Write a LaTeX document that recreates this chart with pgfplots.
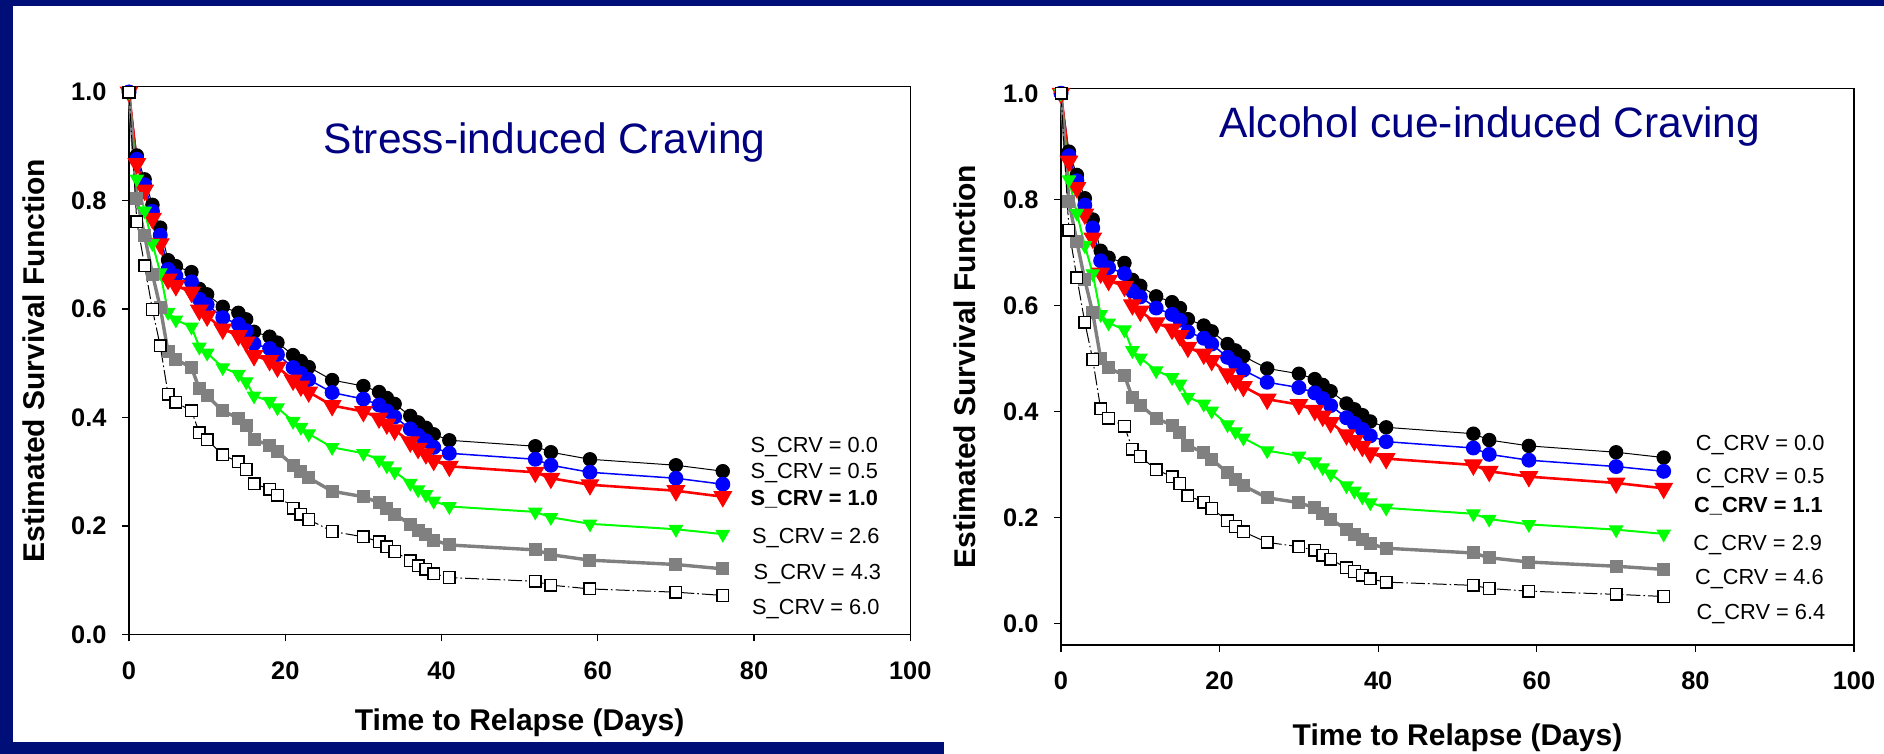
\documentclass[border=0pt]{standalone}
\usepackage{pgfplots}
\usepackage{pgfplotstable}
\pgfplotsset{compat=1.18}
\usepackage{fontspec}
\setmainfont{Liberation Sans}

\definecolor{band}{RGB}{0,14,120}
\definecolor{titlenavy}{RGB}{0,0,128}
\definecolor{cgreen}{RGB}{0,255,0}
\definecolor{cgray}{RGB}{128,128,128}

% Stress-induced craving: t, S_CRV = 0.0, 0.5, 1.0, 2.6, 4.3, 6.0
\pgfplotstableread{
t a b c d e f
0 1 1 1 1 1 1
1 0.883 0.876 0.868 0.840 0.804 0.761
2 0.839 0.829 0.819 0.781 0.735 0.680
3 0.792 0.780 0.767 0.721 0.664 0.599
4 0.750 0.736 0.720 0.667 0.603 0.532
5 0.690 0.673 0.655 0.594 0.521 0.443
6 0.679 0.661 0.643 0.580 0.507 0.428
8 0.668 0.650 0.631 0.567 0.492 0.412
9 0.637 0.618 0.598 0.530 0.453 0.372
10 0.627 0.608 0.587 0.519 0.440 0.359
12 0.604 0.584 0.563 0.492 0.412 0.331
14 0.593 0.572 0.551 0.480 0.399 0.318
15 0.581 0.560 0.539 0.466 0.385 0.304
16 0.558 0.536 0.514 0.440 0.359 0.278
18 0.549 0.527 0.505 0.430 0.349 0.268
19 0.538 0.516 0.493 0.418 0.337 0.257
21 0.515 0.492 0.469 0.393 0.312 0.233
22 0.504 0.481 0.458 0.382 0.300 0.222
23 0.493 0.470 0.447 0.370 0.289 0.212
26 0.469 0.446 0.422 0.345 0.264 0.190
30 0.458 0.434 0.411 0.334 0.254 0.180
32 0.447 0.423 0.399 0.322 0.243 0.171
33 0.436 0.412 0.388 0.311 0.233 0.162
34 0.425 0.401 0.377 0.300 0.222 0.153
36 0.403 0.379 0.355 0.279 0.203 0.136
37 0.391 0.367 0.343 0.267 0.192 0.127
38 0.381 0.357 0.333 0.258 0.184 0.120
39 0.369 0.345 0.321 0.246 0.174 0.112
41 0.358 0.334 0.310 0.236 0.165 0.105
52 0.347 0.323 0.299 0.226 0.156 0.098
54 0.336 0.312 0.288 0.216 0.147 0.091
59 0.323 0.299 0.276 0.204 0.137 0.084
70 0.312 0.288 0.265 0.194 0.129 0.078
76 0.301 0.277 0.254 0.185 0.121 0.072
}\stresstable

% Alcohol cue-induced craving: t, C_CRV = 0.0, 0.5, 1.1, 2.9, 4.6, 6.4
\pgfplotstableread{
t a b c d e f
0 1 1 1 1 1 1
1 0.890 0.882 0.872 0.837 0.795 0.742
2 0.846 0.835 0.822 0.774 0.720 0.652
3 0.802 0.789 0.772 0.713 0.648 0.568
4 0.762 0.746 0.727 0.660 0.586 0.498
5 0.703 0.684 0.661 0.583 0.500 0.405
6 0.690 0.671 0.647 0.567 0.482 0.387
8 0.680 0.660 0.636 0.554 0.468 0.372
9 0.648 0.627 0.601 0.515 0.426 0.329
10 0.637 0.616 0.589 0.501 0.412 0.315
12 0.617 0.595 0.567 0.477 0.387 0.290
14 0.606 0.583 0.555 0.464 0.374 0.277
15 0.595 0.572 0.543 0.452 0.360 0.264
16 0.574 0.550 0.521 0.427 0.336 0.241
18 0.562 0.538 0.508 0.414 0.322 0.229
19 0.551 0.527 0.496 0.401 0.310 0.217
21 0.527 0.502 0.471 0.375 0.284 0.194
22 0.515 0.490 0.458 0.362 0.271 0.183
23 0.504 0.478 0.447 0.350 0.260 0.173
26 0.481 0.455 0.423 0.326 0.237 0.153
30 0.471 0.445 0.413 0.316 0.228 0.145
32 0.461 0.435 0.402 0.305 0.218 0.138
33 0.450 0.424 0.391 0.294 0.208 0.129
34 0.438 0.411 0.379 0.282 0.197 0.121
36 0.415 0.388 0.356 0.260 0.177 0.105
37 0.404 0.377 0.345 0.250 0.168 0.098
38 0.393 0.366 0.334 0.239 0.159 0.091
39 0.381 0.354 0.322 0.228 0.150 0.084
41 0.370 0.343 0.311 0.218 0.142 0.078
52 0.358 0.331 0.299 0.207 0.133 0.072
54 0.346 0.319 0.287 0.197 0.124 0.066
59 0.335 0.308 0.277 0.187 0.116 0.061
70 0.323 0.296 0.265 0.177 0.108 0.055
76 0.313 0.287 0.255 0.169 0.102 0.051
}\cuetable

\pgfplotsset{
  survaxis/.style={
    scale only axis,
    xmin=0, xmax=100,
    xtick={0,20,40,60,80,100},
    ytick={0,0.2,0.4,0.6,0.8,1.0},
    xtick pos=left, ytick pos=left,
    tick align=outside,
    major tick length=3.5pt,
    axis line style={line width=0.65pt},
    every tick/.style={black, line width=0.65pt},
    /pgf/number format/assume math mode=true,
    ticklabel style={font=\fontsize{12.7}{15}\selectfont\bfseries},
    xticklabel style={yshift=-6.5pt},
    yticklabel style={xshift=-4.2pt, /pgf/number format/.cd, fixed, fixed zerofill, precision=1},
    label style={font=\fontsize{15}{18}\selectfont\bfseries},
    clip=false,
  },
  styblack/.style={black, line width=0.5pt, mark=*, mark size=3.35pt, mark options={solid, fill=black, draw=black}},
  styblue/.style={blue, line width=0.75pt, mark=*, mark size=3.35pt, mark options={solid, fill=blue, draw=blue}},
  styred/.style={red, line width=1.3pt, mark=triangle*, mark size=5.0pt, mark options={solid, fill=red, draw=red, rotate=180, line width=0.5pt}},
  stygreen/.style={cgreen, line width=1.0pt, mark=triangle*, mark size=3.8pt, mark options={solid, fill=cgreen, draw=cgreen, rotate=180, line width=0.5pt}},
  stygray/.style={cgray, line width=1.7pt, mark=square*, mark size=3.0pt, mark options={solid, fill=cgray, draw=cgray, line width=0.5pt}},
  stywhite/.style={black, line width=0.5pt, dash pattern=on 7pt off 1.5pt on 0.8pt off 1.5pt, mark=square*, mark size=2.9pt, mark options={solid, fill=white, draw=black, line width=0.7pt}},
}

\begin{document}
\begin{tikzpicture}
\fill[white] (0,0) rectangle (942pt,377pt);
\fill[band] (0,374pt) rectangle (942pt,377pt);
\fill[band] (0,0) rectangle (6.3pt,377pt);
\fill[band] (0,0) rectangle (472pt,6pt);

% Left panel
\begin{axis}[survaxis,
  at={(64.5pt,59.75pt)}, anchor=south west,
  width=390.65pt, height=273.9pt,
  ymin=0, ymax=1.0098,
  xlabel={Time to Relapse (Days)},
  ylabel={Estimated Survival Function},
  xlabel style={at={(axis description cs:0.5,-0.1614)}, anchor=center},
  ylabel style={at={(axis description cs:-0.1216,0.5)}, anchor=center},
]
\addplot[styblack] table[x=t, y=a] {\stresstable};
\addplot[styblue] table[x=t, y=b] {\stresstable};
\addplot[styred] table[x=t, y=c] {\stresstable};
\addplot[stygreen] table[x=t, y=d] {\stresstable};
\addplot[stygray] table[x=t, y=e] {\stresstable};
\addplot[stywhite] table[x=t, y=f] {\stresstable};
\node[anchor=base, font=\fontsize{21.25}{25}\selectfont, text=titlenavy] at (rel axis cs:0.532,0.878) {Stress-induced Craving};
\begin{scope}[every node/.style={anchor=base west, font=\fontsize{10.9}{13}\selectfont, inner sep=0pt}]
\node at (axis cs:79.5,0.336) {S\_CRV = 0.0};
\node at (axis cs:79.5,0.288) {S\_CRV = 0.5};
\node[font=\fontsize{10.9}{13}\selectfont\bfseries] at (axis cs:79.5,0.2374) {S\_CRV = 1.0};
\node at (axis cs:79.7,0.168) {S\_CRV = 2.6};
\node at (axis cs:79.9,0.101) {S\_CRV = 4.3};
\node at (axis cs:79.7,0.036) {S\_CRV = 6.0};
\end{scope}
\end{axis}

% Right panel
\begin{axis}[survaxis,
  at={(530.5pt,54.5pt)}, anchor=south west,
  width=396.5pt, height=278.35pt,
  ymin=-0.0405, ymax=1.0094,
  xlabel={Time to Relapse (Days)},
  ylabel={Estimated Survival Function},
  xlabel style={at={(axis description cs:0.5,-0.167)}, anchor=center},
  ylabel style={at={(axis description cs:-0.121,0.5)}, anchor=center},
]
\addplot[styblack] table[x=t, y=a] {\cuetable};
\addplot[styblue] table[x=t, y=b] {\cuetable};
\addplot[styred] table[x=t, y=c] {\cuetable};
\addplot[stygreen] table[x=t, y=d] {\cuetable};
\addplot[stygray] table[x=t, y=e] {\cuetable};
\addplot[stywhite] table[x=t, y=f] {\cuetable};
\node[anchor=base, font=\fontsize{21.25}{25}\selectfont, text=titlenavy] at (rel axis cs:0.5406,0.912) {Alcohol cue-induced Craving};
\begin{scope}[every node/.style={anchor=base west, font=\fontsize{10.9}{13}\selectfont, inner sep=0pt}]
\node at (axis cs:80.0,0.3255) {C\_CRV = 0.0};
\node at (axis cs:80.0,0.2635) {C\_CRV = 0.5};
\node[font=\fontsize{10.9}{13}\selectfont\bfseries] at (axis cs:79.8,0.2085) {C\_CRV = 1.1};
\node at (axis cs:79.7,0.1375) {C\_CRV = 2.9};
\node at (axis cs:79.9,0.074) {C\_CRV = 4.6};
\node at (axis cs:80.1,0.0078) {C\_CRV = 6.4};
\end{scope}
\end{axis}

\pgfresetboundingbox
\path[use as bounding box] (0,0) rectangle (942pt,377pt);
\end{tikzpicture}
\end{document}
